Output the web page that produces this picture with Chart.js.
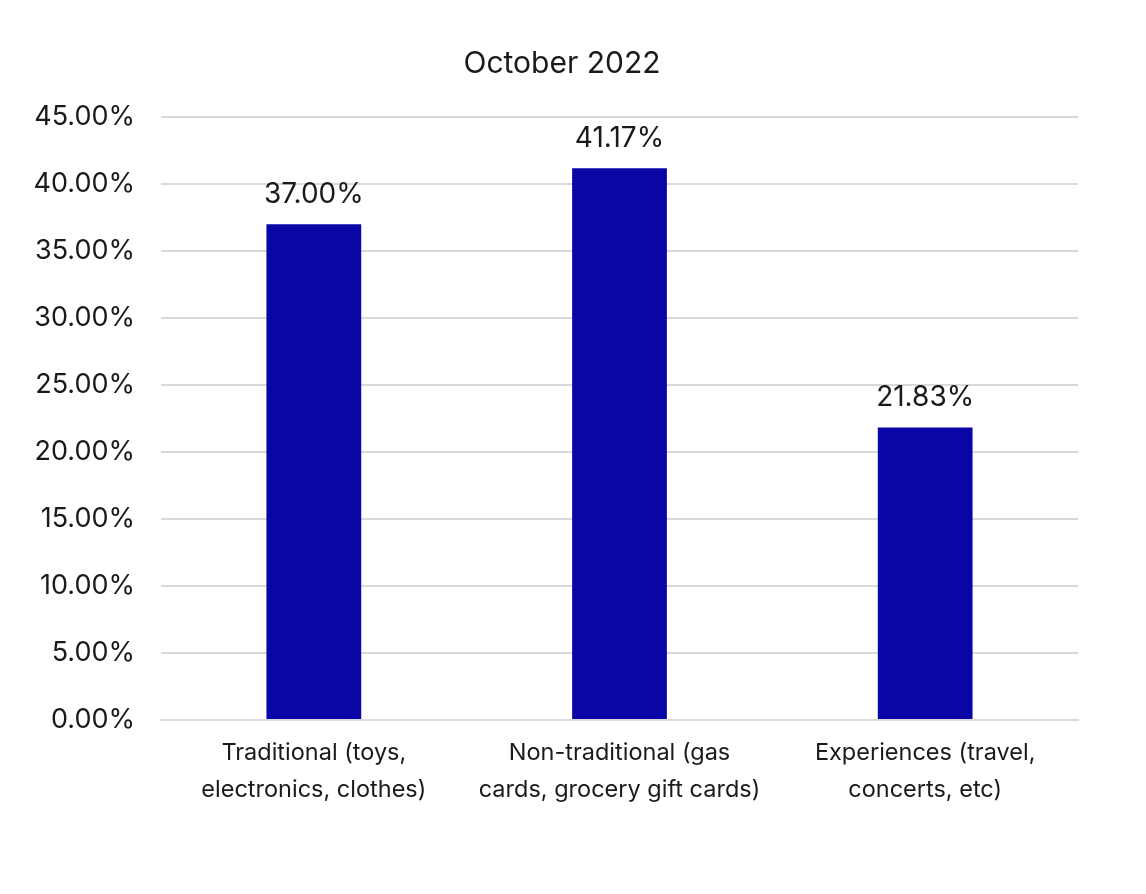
<!DOCTYPE html>
<html>
<head>
<meta charset="utf-8">
<script src="https://cdn.jsdelivr.net/npm/chart.js@4"></script>
<style>
  html, body { margin: 0; padding: 0; background: #fff; }
  #wrap { width: 1146px; height: 894px; }
</style>
</head>
<body>
<div id="wrap"><canvas id="chart" width="1146" height="894"></canvas></div>
<script>
const categories = [
  ['Traditional (toys,', 'electronics, clothes)'],
  ['Non-traditional (gas', 'cards, grocery gift cards)'],
  ['Experiences (travel,', 'concerts, etc)']
];
const values = [37.00, 41.17, 21.83];
const yTicks = [0, 5, 10, 15, 20, 25, 30, 35, 40, 45];
const chartTitle = 'October 2022';

const FONT = 'Inter, "Noto Sans", sans-serif';

// title is centred on the whole picture, not on the plot
const titleAndLabels = {
  id: 'titleAndLabels',
  afterDatasetsDraw(chart) {
    const ctx = chart.ctx;
    const meta = chart.getDatasetMeta(0);
    ctx.save();
    ctx.fillStyle = '#1a1a1a';
    ctx.textAlign = 'center';
    ctx.textBaseline = 'middle';
    ctx.font = '28px ' + FONT;
    meta.data.forEach((bar, i) => {
      ctx.fillText(values[i].toFixed(2) + '%', bar.x, bar.y - 30);
    });
    ctx.font = '30px ' + FONT;
    ctx.fillText(chartTitle, 562, 64);
    ctx.restore();
  }
};

new Chart(document.getElementById('chart'), {
  type: 'bar',
  data: {
    labels: categories,
    datasets: [{
      data: values,
      backgroundColor: '#0a05a5',
      categoryPercentage: 1,
      barPercentage: 0.31,
    }]
  },
  options: {
    responsive: false,
    animation: false,
    layout: { padding: { left: 0, right: 68, top: 117, bottom: 60 } },
    plugins: {
      legend: { display: false },
      tooltip: { enabled: false },
      title: { display: false }
    },
    scales: {
      x: {
        grid: { display: false, drawTicks: false },
        border: { display: true, color: '#d9d9d9', width: 2 },
        ticks: {
          color: '#1a1a1a',
          font: { family: FONT, size: 23.5, lineHeight: 1.55 },
          padding: 15,
          maxRotation: 0
        },
        afterFit(scale) { scale.height = 114; }
      },
      y: {
        min: 0,
        max: 45,
        afterBuildTicks(scale) { scale.ticks = yTicks.map(v => ({ value: v })); },
        grid: { color: '#d9d9d9', lineWidth: 2, drawTicks: false },
        border: { display: false },
        ticks: {
          color: '#1a1a1a',
          font: { family: FONT, size: 27 },
          padding: 26,
          callback: v => v.toFixed(2) + '%'
        },
        afterFit(scale) { scale.width = 161; }
      }
    }
  },
  plugins: [titleAndLabels]
});
</script>
</body>
</html>
